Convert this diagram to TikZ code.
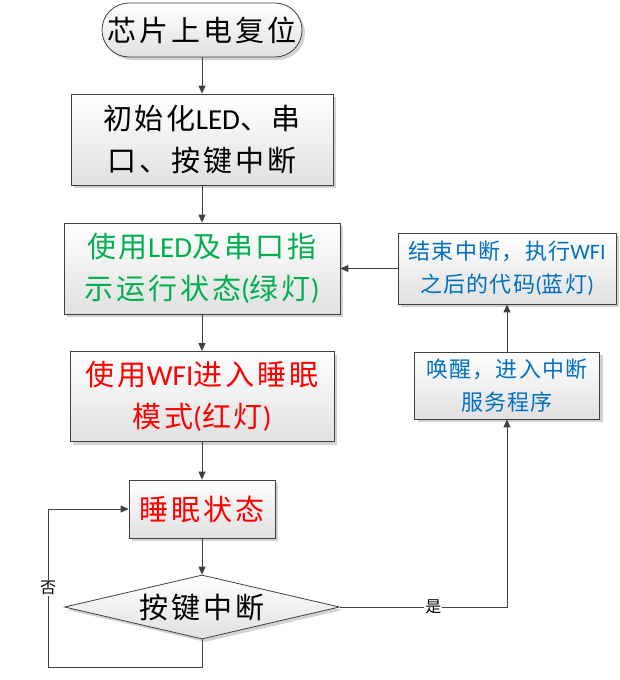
\documentclass[tikz,border=0pt]{standalone}
\usepackage{fontspec}
\setmainfont{Carlito}
\newfontfamily\cjk[LetterSpace=6]{Noto Sans CJK SC}
\newfontfamily\cjkb[LetterSpace=10]{Noto Sans CJK SC}
\newfontfamily\lat{Carlito}
\usetikzlibrary{shapes.geometric,shadows,arrows.meta}
\definecolor{lgreen}{HTML}{00B050}
\definecolor{lblue}{HTML}{0070C0}
\definecolor{lred}{HTML}{FF0000}
\definecolor{edge}{HTML}{404040}
\begin{document}
\begin{tikzpicture}[x=1pt,y=-1pt,
  boxbase/.style={draw=edge, line width=0.8pt, top color=white, bottom color=black!12,
    drop shadow={shadow xshift=3pt, shadow yshift=-3pt, fill=black!35, opacity=0.5},
    inner sep=0pt, align=center},
  bigtxt/.style={font=\cjkb\fontsize{29}{42}\selectfont},
  smalltxt/.style={font=\cjk\fontsize{22}{33}\selectfont},
  arr/.style={draw=edge, line width=1pt, -{Triangle[width=7pt,length=8pt]}},
  lbl/.style={font=\cjk\fontsize{16}{18}\selectfont, fill=white, inner sep=1pt, text=black}
]
\useasboundingbox (0,0) rectangle (620,680);

\node[boxbase, bigtxt, rounded corners=27pt, minimum width=200pt, minimum height=54pt] (t) at (202,30) {芯片上电复位};
\node[boxbase, bigtxt, minimum width=262pt, minimum height=91pt] (b1) at (202,139.5) {初始化{\lat LED}、串\\口、按键中断};
\node[boxbase, bigtxt, text=lgreen, minimum width=276pt, minimum height=91pt] (b2) at (202,268.5) {使用{\lat LED}及串口指\\示运行状态{\lat (}绿灯{\lat )}};
\node[boxbase, bigtxt, text=lred, minimum width=264pt, minimum height=90pt] (b3) at (202,396.5) {使用{\lat WFI}进入睡眠\\模式{\lat (}红灯{\lat )}};
\node[boxbase, bigtxt, text=lred, minimum width=146pt, minimum height=58pt] (s) at (202,509) {睡眠状态};
\node[boxbase, bigtxt, shape=diamond, aspect=4.3, minimum width=275pt, minimum height=64pt] (d) at (202,607) {按键中断};
\node[boxbase, smalltxt, text=lblue, minimum width=185pt, minimum height=67pt] (w) at (507,385.5) {唤醒，进入中断\\服务程序};
\node[boxbase, smalltxt, text=lblue, minimum width=218pt, minimum height=71pt] (e) at (507,268.5) {结束中断，执行{\lat WFI}\\之后的代码{\lat (}蓝灯{\lat )}};

\coordinate (lb) at (48,667);

\draw[arr] (t) -- (b1);
\draw[arr] (b1) -- (b2);
\draw[arr] (b2) -- (b3);
\draw[arr] (b3) -- (s);
\draw[arr] (s) -- (d);
\draw[arr] (d.east) -| node[lbl, pos=0.28] {是} (w.south);
\draw[arr] (w) -- (e);
\draw[arr] (e) -- (b2);
\draw[arr] (d.south) |- (lb) |- node[lbl, pos=0.25] {否} (s.west);
\end{tikzpicture}
\end{document}
